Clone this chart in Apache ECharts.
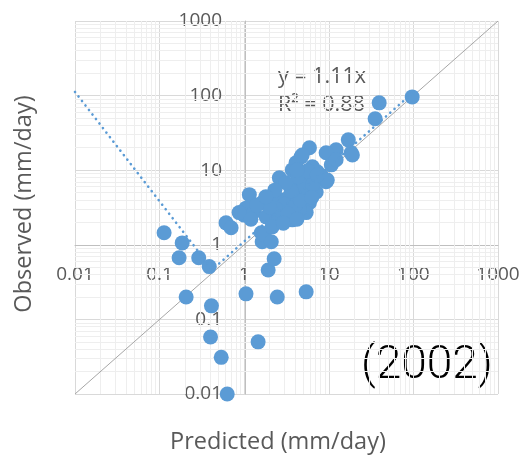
<!DOCTYPE html>
<html>
<head>
<meta charset="utf-8">
<script src="https://cdn.jsdelivr.net/npm/echarts@6/dist/echarts.min.js"></script>
<style>
  html, body { margin: 0; padding: 0; background: #fff; }
  #main { width: 527px; height: 456px; }
</style>
</head>
<body>
<div id="main"></div>
<script>
var tickLabels = ['0.01', '0.1', '1', '10', '100', '1000'];

// predicted (x) / observed (y), mm/day
var predicted = [
  0.113, 0.185, 0.17, 0.29, 0.386, 0.206, 0.41, 0.40, 0.535, 0.63,
  1.05, 1.46, 2.46, 5.4, 1.92, 2.26, 1.63, 1.59, 0.61, 0.70,
  1.72, 2.09, 1.0,
  96.8, 39.4, 35.3, 17.0, 18.4, 12.2, 9.3, 10.7, 12.2, 19.0,
  5.9, 4.7, 9.3, 7.3, 2.6, 3.7, 3.9, 5.4, 7.1, 5.9, 5.4, 3.7, 2.8, 2.14,
  1.63, 1.15, 1.05, 0.87, 1.31, 1.82, 2.6, 2.14, 3.1, 4.5, 3.4, 4.85, 4.1, 6.4,
  3.0, 4.0, 2.4, 3.3, 4.6, 5.0, 6.5, 8.2, 2.0, 1.4, 3.6, 4.3, 3.1, 5.6, 1.2,
  2.9, 4.2, 6.3, 2.3, 1.8, 4.2, 4.85, 9.6, 7.3
];
var observed = [
  1.45, 1.06, 0.67, 0.67, 0.51, 0.2, 0.152, 0.058, 0.031, 0.01,
  0.22, 0.05, 0.2, 0.234, 0.46, 0.65, 1.1, 1.45, 1.97, 1.69,
  1.36, 1.1, 2.5,
  96, 80, 48.9, 25.5, 17.1, 18.8, 17.1, 11.8, 13.8, 16,
  20, 15.1, 7.0, 9.5, 7.9, 10.1, 6.0, 7.4, 5.1, 3.66, 2.7, 2.16, 4.0, 4.0,
  3.66, 4.7, 3.1, 2.7, 2.77, 2.37, 2.37, 1.74, 2.95, 2.95, 4.4, 5.0, 12.6, 11.1,
  3.5, 3.3, 3.0, 2.6, 4.0, 6.0, 6.5, 8.4, 3.2, 3.4, 5.3, 8.2, 6.8, 9.8, 2.2,
  1.95, 2.2, 4.3, 5.4, 4.4, 10.1, 16, 7.4, 8.6
];

// Excel trendline (y = 1.11x) as drawn on log axes
var trendX = [0.01, 0.42, 100];
var trendY = [112, 0.466, 111];
var oneToOne = [0.01, 1000];

var points = predicted.map(function (x, i) { return [x, observed[i]]; });
var trend = trendX.map(function (x, i) { return [x, trendY[i]]; });

// minor gridlines 2..9 within each decade
var minorX = [], minorY = [];
[0.01, 0.1, 1, 10, 100].forEach(function (d) {
  for (var k = 2; k <= 9; k++) {
    minorX.push({ xAxis: +(k * d).toPrecision(3) });
    minorY.push({ yAxis: +(k * d).toPrecision(3) });
  }
});

var labelFmt = function (v) {
  return tickLabels[Math.round(Math.log10(v)) + 2];
};

var myChart = echarts.init(document.getElementById('main'));
var option = {
  animation: false,
  backgroundColor: '#fff',
  grid: { left: 75, top: 21, width: 423, height: 373, outerBoundsMode: 'none' },
  xAxis: {
    type: 'log', logBase: 10, min: 0.01, max: 1000,
    position: 'bottom', offset: -149,
    axisLine: { show: true, lineStyle: { color: '#bfbfbf', width: 1 } },
    axisTick: { show: false },
    axisLabel: { color: '#595959', fontSize: 19, fontFamily: 'Open Sans', margin: 20,
      showMinLabel: true, showMaxLabel: true, formatter: labelFmt },
    splitLine: { show: true, lineStyle: { color: '#d9d9d9', width: 1 } }
  },
  yAxis: {
    type: 'log', logBase: 10, min: 0.01, max: 1000,
    position: 'left', offset: -170,
    axisLine: { show: true, lineStyle: { color: '#bfbfbf', width: 1 } },
    axisTick: { show: false },
    axisLabel: { color: '#595959', fontSize: 19, fontFamily: 'Open Sans', margin: 23,
      showMinLabel: true, showMaxLabel: true, formatter: labelFmt },
    splitLine: { show: true, lineStyle: { color: '#d9d9d9', width: 1 } }
  },
  graphic: [
    { type: 'text', x: 278, y: 77, style: { text: 'y = 1.11x', fill: '#595959',
        font: '21.5px "Open Sans"', verticalAlign: 'middle' } },
    { type: 'text', x: 278, y: 105, style: { text: 'R² = 0.88', fill: '#595959',
        font: '21.5px "Open Sans"', verticalAlign: 'middle' } },
    { type: 'text', x: 427, y: 366, style: { text: '(2002)', fill: '#000',
        font: '300 46px Roboto', align: 'center', verticalAlign: 'middle' } },
    { type: 'text', x: 278, y: 442, style: { text: 'Predicted (mm/day)', fill: '#595959',
        font: '23.5px "Open Sans"', align: 'center', verticalAlign: 'middle' } },
    { type: 'text', x: 24, y: 204, rotation: Math.PI / 2, style: { text: 'Observed (mm/day)',
        fill: '#595959', font: '23.5px "Open Sans"', align: 'center', verticalAlign: 'middle' } }
  ],
  series: [
    {
      type: 'line', z: 1, silent: true, data: [],
      markLine: {
        z: 1, silent: true, symbol: 'none', animation: false, label: { show: false },
        lineStyle: { color: '#eeeeee', width: 1, type: 'solid' },
        data: minorX.concat(minorY)
      }
    },
    {
      type: 'line', z: 2, silent: true, symbol: 'none',
      data: oneToOne.map(function (v) { return [v, v]; }),
      lineStyle: { color: '#a6a6a6', width: 1 }
    },
    {
      type: 'scatter', z: 3, symbol: 'circle', symbolSize: 15,
      itemStyle: { color: '#5b9bd5', opacity: 1 },
      data: points
    },
    {
      type: 'line', z: 4, silent: true, symbol: 'none',
      data: trend,
      lineStyle: { color: '#5b9bd5', width: 2.6, type: [0.1, 5.6], cap: 'round' }
    }
  ]
};
myChart.setOption(option);
</script>
</body>
</html>
